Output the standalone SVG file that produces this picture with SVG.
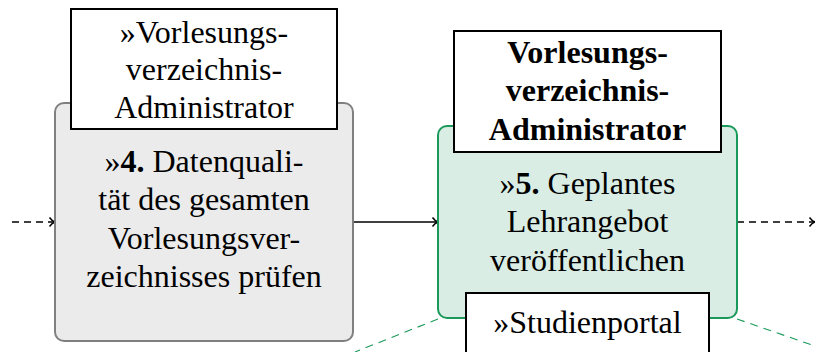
<svg xmlns="http://www.w3.org/2000/svg" width="815" height="352" viewBox="0 0 815 352">
<style>
text{font-family:"Liberation Serif","Times New Roman",serif;font-size:32px;fill:#000;text-anchor:middle}
.b{font-weight:bold}
.lbl{fill:#fff;stroke:#000;stroke-width:2}
.conn{fill:none;stroke:#000;stroke-width:1.6}
.dash{stroke-dasharray:7 5}
.gd{fill:none;stroke:#1a9a5a;stroke-width:1.1;stroke-dasharray:8 6}
</style>
<defs>
<marker id="ah" markerWidth="12" markerHeight="12" refX="9" refY="6" orient="auto" markerUnits="userSpaceOnUse">
<path d="M3.5,1.5 Q6,5 9,6 Q6,7 3.5,10.5" fill="none" stroke="#000" stroke-width="1.5"/>
</marker>
</defs>
<g id="connectors">
<line class="conn dash" x1="12" y1="222" x2="55" y2="222" marker-end="url(#ah)"/>
<line class="conn" x1="353" y1="222" x2="438" y2="222" marker-end="url(#ah)"/>
<line class="conn dash" x1="737" y1="222" x2="815" y2="222" marker-end="url(#ah)"/>
<line class="gd" x1="438" y1="319" x2="355" y2="352"/>
<line class="gd" x1="737" y1="319" x2="815" y2="346"/>
</g>
<g id="step4">
<rect x="55" y="103" width="298" height="238" rx="9" fill="#ebebeb" stroke="#808080" stroke-width="2"/>
<text x="204" y="172">»<tspan class="b">4.</tspan> Datenquali-</text>
<text x="204" y="210">tät des gesamten</text>
<text x="204" y="249">Vorlesungsver-</text>
<text x="204" y="287">zeichnisses prüfen</text>
</g>
<g id="step4-role">
<rect class="lbl" x="71" y="9" width="266" height="120"/>
<text x="204" y="43">»Vorlesungs-</text>
<text x="204" y="80">verzeichnis-</text>
<text x="204" y="118">Administrator</text>
</g>
<g id="step5">
<rect x="438" y="126" width="299" height="192" rx="9" fill="#d9ede4" stroke="#1a9a5a" stroke-width="2"/>
<text x="587.5" y="194">»<tspan class="b">5.</tspan> Geplantes</text>
<text x="587.5" y="232">Lehrangebot</text>
<text x="587.5" y="271">veröffentlichen</text>
</g>
<g id="step5-role">
<rect class="lbl" x="454" y="31" width="267" height="121"/>
<text class="b" x="587.5" y="63">Vorlesungs-</text>
<text class="b" x="587.5" y="101">verzeichnis-</text>
<text class="b" x="587.5" y="140">Administrator</text>
</g>
<g id="step5-system">
<rect class="lbl" x="466" y="293" width="243" height="70"/>
<text x="587.5" y="333">»Studienportal</text>
</g>
</svg>
